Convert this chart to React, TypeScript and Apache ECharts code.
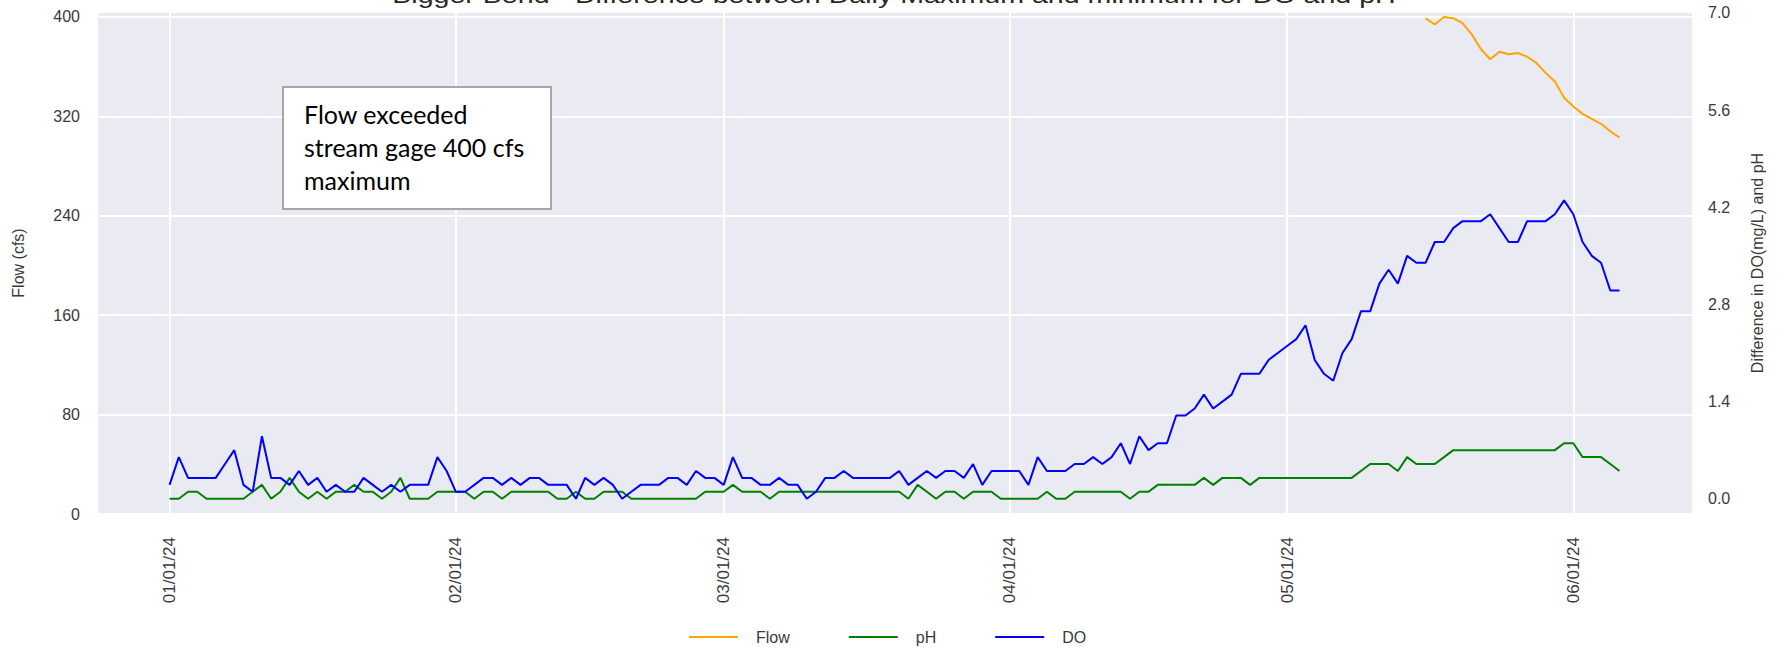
import React, { useEffect, useRef } from 'react';
import * as echarts from 'echarts';

// ---- data ----
const startDate = '2024-01-01';
const titleText = 'Bigger Bend - Difference between Daily Maximum and minimum for DO and pH';
const tickLabels = ['01/01/24', '02/01/24', '03/01/24', '04/01/24', '05/01/24', '06/01/24'];
const rightTicks = [0, 1.4, 2.8, 4.2, 5.6, 7.0];

// daily values, one per day from 01/01/24
const doValues = [
  0.2, 0.6, 0.3, 0.3, 0.3, 0.3, 0.5, 0.7, 0.2, 0.1,
  0.9, 0.3, 0.3, 0.2, 0.4, 0.2, 0.3, 0.1, 0.2, 0.1,
  0.1, 0.3, 0.2, 0.1, 0.2, 0.1, 0.2, 0.2, 0.2, 0.6,
  0.4, 0.1, 0.1, 0.2, 0.3, 0.3, 0.2, 0.3, 0.2, 0.3,
  0.3, 0.2, 0.2, 0.2, 0.0, 0.3, 0.2, 0.3, 0.2, 0.0,
  0.1, 0.2, 0.2, 0.2, 0.3, 0.3, 0.2, 0.4, 0.3, 0.3,
  0.2, 0.6, 0.3, 0.3, 0.2, 0.2, 0.3, 0.2, 0.2, 0.0,
  0.1, 0.3, 0.3, 0.4, 0.3, 0.3, 0.3, 0.3, 0.3, 0.4,
  0.2, 0.3, 0.4, 0.3, 0.4, 0.4, 0.3, 0.5, 0.2, 0.4,
  0.4, 0.4, 0.4, 0.2, 0.6, 0.4, 0.4, 0.4, 0.5, 0.5,
  0.6, 0.5, 0.6, 0.8, 0.5, 0.9, 0.7, 0.8, 0.8, 1.2,
  1.2, 1.3, 1.5, 1.3, 1.4, 1.5, 1.8, 1.8, 1.8, 2.0,
  2.1, 2.2, 2.3, 2.5, 2.0, 1.8, 1.7, 2.1, 2.3, 2.7,
  2.7, 3.1, 3.3, 3.1, 3.5, 3.4, 3.4, 3.7, 3.7, 3.9,
  4.0, 4.0, 4.0, 4.1, 3.9, 3.7, 3.7, 4.0, 4.0, 4.0,
  4.1, 4.3, 4.1, 3.7, 3.5, 3.4, 3.0, 3.0,
];

const phValues = [
  0.0, 0.0, 0.1, 0.1, 0.0, 0.0, 0.0, 0.0, 0.0, 0.1,
  0.2, 0.0, 0.1, 0.3, 0.1, 0.0, 0.1, 0.0, 0.1, 0.1,
  0.2, 0.1, 0.1, 0.0, 0.1, 0.3, 0.0, 0.0, 0.0, 0.1,
  0.1, 0.1, 0.1, 0.0, 0.1, 0.1, 0.0, 0.1, 0.1, 0.1,
  0.1, 0.1, 0.0, 0.0, 0.1, 0.0, 0.0, 0.1, 0.1, 0.1,
  0.0, 0.0, 0.0, 0.0, 0.0, 0.0, 0.0, 0.0, 0.1, 0.1,
  0.1, 0.2, 0.1, 0.1, 0.1, 0.0, 0.1, 0.1, 0.1, 0.1,
  0.1, 0.1, 0.1, 0.1, 0.1, 0.1, 0.1, 0.1, 0.1, 0.1,
  0.0, 0.2, 0.1, 0.0, 0.1, 0.1, 0.0, 0.1, 0.1, 0.1,
  0.0, 0.0, 0.0, 0.0, 0.0, 0.1, 0.0, 0.0, 0.1, 0.1,
  0.1, 0.1, 0.1, 0.1, 0.0, 0.1, 0.1, 0.2, 0.2, 0.2,
  0.2, 0.2, 0.3, 0.2, 0.3, 0.3, 0.3, 0.2, 0.3, 0.3,
  0.3, 0.3, 0.3, 0.3, 0.3, 0.3, 0.3, 0.3, 0.3, 0.4,
  0.5, 0.5, 0.5, 0.4, 0.6, 0.5, 0.5, 0.5, 0.6, 0.7,
  0.7, 0.7, 0.7, 0.7, 0.7, 0.7, 0.7, 0.7, 0.7, 0.7,
  0.7, 0.8, 0.8, 0.6, 0.6, 0.6, 0.5, 0.4,
];

// flow is only recorded once it drops below the gage maximum (from 05/16/24)
const flowStartDate = '2024-05-16';
const flowValues = [
  399, 394, 400, 399, 395, 386, 374, 366, 372, 370, 371,
  368, 363, 355, 348, 335, 328, 322, 318, 314, 308, 303,
];

const annotationLines = ['Flow exceeded', 'stream gage 400 cfs', 'maximum'];

// ---- helpers ----
const DAY = 86400000;
const t0 = Date.parse(startDate + 'T00:00:00Z');
const dayIndexOfLabel = (lbl: string) => {
  const [mm, dd, yy] = lbl.split('/').map(Number);
  return Math.round((Date.UTC(2000 + yy, mm - 1, dd) - t0) / DAY);
};
const tickDays = tickLabels.map(dayIndexOfLabel);
const flowStart = Math.round((Date.parse(flowStartDate + 'T00:00:00Z') - t0) / DAY);

const FONT = "'Liberation Sans', Arial, Helvetica, sans-serif";
const LABEL = '#3a3a3a';

export default function App() {
  const ref = useRef<HTMLDivElement>(null);

  useEffect(() => {
    if (!ref.current) return;
    const chart = echarts.init(ref.current, undefined, { renderer: 'svg' });

    const option: any = {
      animation: false,
      backgroundColor: '#ffffff',
      textStyle: { fontFamily: FONT },
      grid: {
        left: 98,
        top: 12,
        width: 1594,
        height: 502,
        show: true,
        backgroundColor: '#EAEAF2',
        borderWidth: 0,
      },
      legend: {
        left: 683,
        top: 624,
        itemWidth: 49,
        itemHeight: 12,
        itemGap: 58,
        itemStyle: { opacity: 0 },
        textStyle: { fontSize: 16, color: LABEL, fontFamily: FONT, padding: [0, 0, 0, 13] },
        data: ['Flow', 'pH', 'DO'],
      },
      xAxis: {
        type: 'value',
        min: -7.75,
        max: 164.85,
        axisLine: { show: false },
        axisTick: { show: false, customValues: tickDays },
        axisLabel: {
          customValues: tickDays,
          rotate: 90,
          margin: 23,
          fontSize: 17,
          color: LABEL,
          fontFamily: FONT,
          formatter: (v: number) => {
            const i = tickDays.indexOf(Math.round(v));
            return i >= 0 ? tickLabels[i] : '';
          },
        },
        splitLine: { show: true, lineStyle: { color: '#ffffff', width: 2 } },
      },
      yAxis: [
        {
          type: 'value',
          position: 'left',
          min: 0,
          max: 404,
          interval: 80,
          name: 'Flow (cfs)',
          nameLocation: 'middle',
          nameGap: 72,
          nameRotate: 90,
          nameTextStyle: { fontSize: 16, color: LABEL, fontFamily: FONT },
          axisLine: { show: false },
          axisTick: { show: false },
          axisLabel: { fontSize: 16, color: LABEL, margin: 18, showMaxLabel: false, fontFamily: FONT },
          splitLine: { show: true, lineStyle: { color: '#ffffff', width: 2 } },
        },
        {
          type: 'value',
          position: 'right',
          min: -0.22,
          max: 7.014,
          name: 'Difference in DO(mg/L) and pH',
          nameLocation: 'middle',
          nameGap: 57,
          nameRotate: 90,
          nameTextStyle: { fontSize: 16, color: LABEL, fontFamily: FONT },
          axisLine: { show: false },
          axisTick: { show: false, customValues: rightTicks },
          axisLabel: {
            customValues: rightTicks,
            fontSize: 16,
            color: LABEL,
            margin: 16,
            fontFamily: FONT,
            formatter: (v: number) => v.toFixed(1),
          },
          splitLine: { show: false },
        },
      ],
      series: [
        {
          name: 'Flow',
          type: 'line',
          yAxisIndex: 0,
          symbol: 'none',
          color: '#FFA500',
          lineStyle: { width: 2, color: '#FFA500' },
          data: flowValues.map((v, i) => [flowStart + i, v]),
        },
        {
          name: 'pH',
          type: 'line',
          yAxisIndex: 1,
          symbol: 'none',
          color: '#008000',
          lineStyle: { width: 2, color: '#008000' },
          data: phValues.map((v, i) => [i, v]),
        },
        {
          name: 'DO',
          type: 'line',
          yAxisIndex: 1,
          symbol: 'none',
          color: '#0000FF',
          lineStyle: { width: 2, color: '#0000FF' },
          data: doValues.map((v, i) => [i, v]),
        },
      ],
      graphic: [
        {
          type: 'text',
          x: 894,
          y: -4.6,
          scaleX: 1.3,
          z: 10,
          style: {
            text: titleText,
            fontSize: 22,
            fontFamily: FONT,
            fill: '#262626',
            textAlign: 'center',
            textVerticalAlign: 'middle',
          },
        },
        {
          type: 'rect',
          shape: { x: 283, y: 87, width: 268, height: 122 },
          z: 10,
          style: { fill: '#ffffff', stroke: '#a6a6a6', lineWidth: 2 },
        },
        {
          type: 'text',
          x: 304,
          y: 97,
          z: 11,
          style: {
            text: annotationLines.join('\n'),
            fontSize: 25,
            lineHeight: 33,
            fontFamily: "Lato, 'Open Sans', sans-serif",
            fill: '#000000',
            textAlign: 'left',
            textVerticalAlign: 'top',
          },
        },
      ],
    };

    chart.setOption(option);
    return () => chart.dispose();
  }, []);

  return (
    <div
      ref={ref}
      style={{ position: 'absolute', left: 0, top: 0, width: 1789, height: 658 }}
    />
  );
}
